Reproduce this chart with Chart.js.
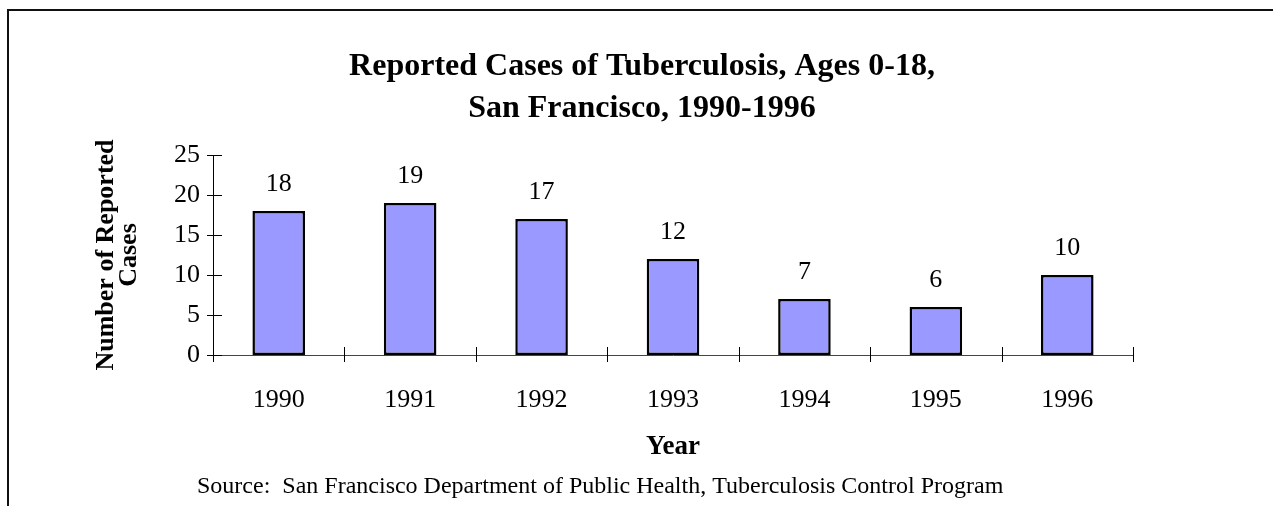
<!DOCTYPE html>
<html>
<head>
<meta charset="utf-8">
<script src="https://cdn.jsdelivr.net/npm/chart.js@4/dist/chart.umd.min.js"></script>
<style>
  html, body { margin: 0; padding: 0; background: #fff; overflow: hidden; }
  #wrap { position: relative; width: 1273px; height: 506px; }
  #frame { position: absolute; left: 7px; top: 9px; right: 0; bottom: 0;
           border-top: 2px solid #111; border-left: 2px solid #111; pointer-events: none; }
</style>
</head>
<body>
<div id="wrap">
  <canvas id="tbChart"></canvas>
  <div id="frame"></div>
</div>
<script>
const years = ['1990', '1991', '1992', '1993', '1994', '1995', '1996'];
const cases = [18, 19, 17, 12, 7, 6, 10];
const yMax = 25;
const yStep = 5;

const titleLines = ['Reported Cases of Tuberculosis, Ages 0-18,', 'San Francisco, 1990-1996'];
const yTitleLines = ['Number of Reported', 'Cases'];
const xTitle = 'Year';
const sourceText = 'Source:  San Francisco Department of Public Health, Tuberculosis Control Program';

const serif = '"Liberation Serif", "Times New Roman", serif';
const barColor = '#9999FF';

// tick marks that cross the axis lines, like the old spreadsheet charts
const crossTicks = {
  id: 'crossTicks',
  afterDatasetsDraw(chart) {
    const {ctx, chartArea} = chart;
    const x = chart.scales.x, y = chart.scales.y;
    ctx.save();
    ctx.strokeStyle = '#000';
    ctx.lineWidth = 1;
    ctx.beginPath();
    for (let i = 0; i <= years.length; i++) {
      const px = Math.round(x.getPixelForValue(i - 0.5)) + 0.5;
      ctx.moveTo(px, chartArea.bottom - 8);
      ctx.lineTo(px, chartArea.bottom + 7);
    }
    y.ticks.forEach(t => {
      const py = Math.round(y.getPixelForValue(t.value)) + 0.5;
      ctx.moveTo(chartArea.left - 6, py);
      ctx.lineTo(chartArea.left + 9, py);
    });
    ctx.stroke();
    ctx.restore();
  }
};

const valueLabels = {
  id: 'valueLabels',
  afterDatasetsDraw(chart) {
    const {ctx} = chart;
    const meta = chart.getDatasetMeta(0);
    ctx.save();
    ctx.font = '26px ' + serif;
    ctx.fillStyle = '#000';
    ctx.textAlign = 'center';
    ctx.textBaseline = 'alphabetic';
    meta.data.forEach((bar, i) => ctx.fillText(String(cases[i]), bar.x, bar.y - 20));
    ctx.restore();
  }
};

const sourceNote = {
  id: 'sourceNote',
  afterDraw(chart) {
    const {ctx} = chart;
    ctx.save();
    ctx.font = '24px ' + serif;
    ctx.fillStyle = '#000';
    ctx.textAlign = 'left';
    ctx.textBaseline = 'alphabetic';
    ctx.fillText(sourceText, 197, chart.height - 13);
    ctx.restore();
  }
};

new Chart(document.getElementById('tbChart'), {
  type: 'bar',
  data: {
    labels: years,
    datasets: [{
      label: 'Reported cases',
      data: cases,
      backgroundColor: barColor,
      borderColor: '#000',
      borderWidth: 2.5,
      borderSkipped: false,
      barPercentage: 0.4,
      categoryPercentage: 1.0
    }]
  },
  options: {
    responsive: true,
    maintainAspectRatio: false,
    animation: false,
    layout: { padding: { left: 11, right: 0, top: 0, bottom: 36 } },
    plugins: {
      legend: { display: false },
      tooltip: { enabled: false },
      title: {
        display: true,
        text: titleLines,
        color: '#000',
        font: { family: serif, size: 32, weight: 'bold', lineHeight: '42px' },
        padding: { top: 46, bottom: 25 }
      }
    },
    scales: {
      x: {
        grid: { display: false, drawTicks: false },
        border: { display: true, color: '#444', width: 1 },
        ticks: { color: '#000', font: { family: serif, size: 26 }, padding: 30 },
        title: {
          display: true, text: xTitle, color: '#000',
          font: { family: serif, size: 27, weight: 'bold' },
          padding: { top: 0, bottom: 7 }
        },
        afterFit: s => { s.height = 115; }
      },
      y: {
        min: 0,
        max: yMax,
        grid: { display: false, drawTicks: false },
        border: { display: true, color: '#000', width: 1 },
        ticks: { stepSize: yStep, color: '#000', font: { family: serif, size: 26 }, padding: 13 },
        title: {
          display: true, text: yTitleLines, color: '#000',
          font: { family: serif, size: 26, weight: 'bold', lineHeight: '23px' },
          padding: { top: 84, bottom: 0 }
        },
        afterFit: s => { s.width = 202; }
      },
      spacer: {
        type: 'linear',
        position: 'right',
        grid: { display: false, drawTicks: false },
        border: { display: false },
        ticks: { display: false },
        afterFit: s => { s.width = 140; }
      }
    }
  },
  plugins: [crossTicks, valueLabels, sourceNote]
});
</script>
</body>
</html>
